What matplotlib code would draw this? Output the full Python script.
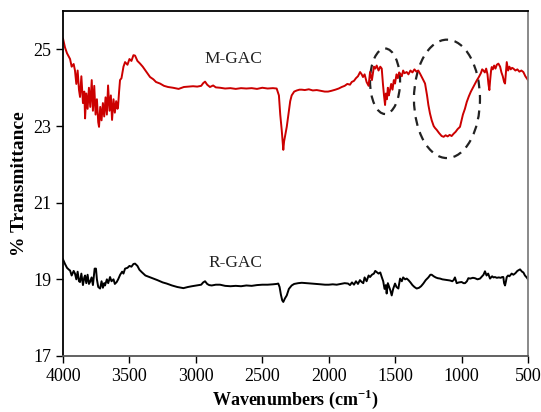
import numpy as np
import matplotlib
matplotlib.use("Agg")
import matplotlib.pyplot as plt
from matplotlib.patches import Ellipse

# M-GAC spectrum
m_wn = [4000, 3985, 3970, 3955, 3947, 3935, 3920, 3910, 3900, 3890,
        3880, 3872, 3862, 3850, 3840, 3834, 3825, 3815, 3805, 3795,
        3784, 3775, 3765, 3755, 3745, 3735, 3729, 3720, 3710, 3700,
        3690, 3680, 3670, 3661, 3650, 3640, 3631, 3620, 3610, 3600,
        3590, 3586, 3578, 3571, 3560, 3545, 3533, 3515, 3500, 3485,
        3470, 3458, 3440, 3420, 3400, 3380, 3360, 3345, 3320, 3300,
        3270, 3240, 3210, 3172, 3130, 3090, 3050, 3021, 2990, 2960,
        2945, 2931, 2915, 2894, 2870, 2850, 2818, 2780, 2740, 2700,
        2660, 2620, 2580, 2540, 2500, 2460, 2420, 2392, 2375, 2365,
        2354, 2346, 2342, 2336, 2328, 2316, 2300, 2290, 2279, 2260,
        2240, 2220, 2203, 2180, 2150, 2120, 2090, 2060, 2030, 2005,
        1980, 1950, 1925, 1902, 1880, 1860, 1840, 1827, 1810, 1795,
        1780, 1764, 1752, 1742, 1730, 1715, 1700, 1689, 1675, 1660,
        1650, 1639, 1625, 1612, 1601, 1592, 1584, 1576, 1570, 1562,
        1555, 1548, 1539, 1530, 1520, 1510, 1501, 1490, 1480, 1470,
        1463, 1450, 1440, 1430, 1413, 1400, 1385, 1370, 1355, 1340,
        1326, 1310, 1295, 1285, 1275, 1260, 1250, 1238, 1225, 1210,
        1200, 1187, 1170, 1160, 1150, 1135, 1120, 1105, 1090, 1075,
        1060, 1045, 1030, 1012, 1000, 990, 975, 961, 945, 930,
        915, 900, 886, 870, 855, 845, 836, 825, 815, 805,
        798, 791, 785, 778, 773, 765, 755, 745, 735, 723,
        710, 700, 690, 680, 673, 666, 660, 650, 640, 630,
        620, 610, 595, 580, 565, 550, 535, 520, 510, 500]
m_t = [25.28, 25.05, 24.90, 24.80, 24.75, 24.55, 24.62, 24.45, 24.10, 24.45,
       23.95, 23.76, 24.30, 23.60, 23.90, 23.20, 23.85, 23.45, 24.00, 23.50,
       24.20, 23.40, 24.05, 23.30, 23.70, 23.10, 22.98, 23.50, 23.15, 23.60,
       23.25, 23.75, 23.30, 24.06, 23.40, 23.80, 23.16, 23.70, 23.35, 23.65,
       23.45, 23.50, 23.90, 24.20, 24.25, 24.55, 24.67, 24.60, 24.75, 24.70,
       24.85, 24.84, 24.70, 24.63, 24.55, 24.45, 24.35, 24.28, 24.22, 24.15,
       24.11, 24.05, 24.02, 24.00, 23.97, 24.02, 24.03, 24.04, 24.03, 24.05,
       24.12, 24.16, 24.08, 24.02, 24.06, 24.01, 24.00, 23.98, 23.99, 23.97,
       23.99, 23.98, 23.99, 23.97, 24.00, 23.98, 23.99, 23.98, 23.80, 23.30,
       22.90, 22.55, 22.38, 22.60, 22.75, 22.98, 23.40, 23.65, 23.80, 23.90,
       23.93, 23.95, 23.95, 23.94, 23.96, 23.93, 23.94, 23.92, 23.90, 23.90,
       23.92, 23.95, 23.98, 24.02, 24.05, 24.10, 24.08, 24.15, 24.18, 24.25,
       24.30, 24.41, 24.35, 24.28, 24.35, 24.15, 24.05, 24.41, 24.20, 24.55,
       24.50, 24.58, 24.45, 24.55, 24.50, 24.10, 23.80, 23.55, 23.85, 23.70,
       24.00, 23.80, 23.94, 24.10, 23.95, 24.20, 24.11, 24.35, 24.25, 24.40,
       24.37, 24.30, 24.45, 24.38, 24.41, 24.35, 24.45, 24.40, 24.48, 24.42,
       24.45, 24.35, 24.25, 24.18, 24.11, 23.80, 23.55, 23.33, 23.15, 23.00,
       22.95, 22.90, 22.82, 22.78, 22.74, 22.72, 22.76, 22.73, 22.77, 22.74,
       22.80, 22.85, 22.92, 22.98, 23.15, 23.30, 23.45, 23.63, 23.78, 23.90,
       24.00, 24.10, 24.19, 24.28, 24.38, 24.48, 24.45, 24.40, 24.50, 24.35,
       24.10, 23.94, 24.20, 24.45, 24.54, 24.48, 24.58, 24.50, 24.60, 24.63,
       24.55, 24.40, 24.30, 24.15, 24.11, 24.40, 24.67, 24.45, 24.55, 24.48,
       24.52, 24.50, 24.45, 24.48, 24.42, 24.45, 24.41, 24.30, 24.25, 24.20]

# R-GAC spectrum
r_wn = [4000, 3985, 3970, 3955, 3947, 3935, 3920, 3910, 3900, 3890,
        3880, 3872, 3862, 3850, 3840, 3834, 3825, 3815, 3805, 3797,
        3785, 3775, 3762, 3752, 3745, 3735, 3721, 3710, 3700, 3690,
        3684, 3670, 3660, 3646, 3635, 3620, 3610, 3596, 3585, 3570,
        3555, 3545, 3533, 3515, 3500, 3485, 3470, 3458, 3440, 3425,
        3408, 3380, 3350, 3320, 3290, 3250, 3220, 3180, 3140, 3094,
        3060, 3030, 2994, 2960, 2945, 2931, 2915, 2900, 2881, 2850,
        2818, 2780, 2740, 2700, 2660, 2620, 2580, 2540, 2500, 2460,
        2420, 2392, 2380, 2370, 2360, 2350, 2342, 2330, 2316, 2300,
        2279, 2260, 2230, 2203, 2170, 2130, 2090, 2060, 2028, 2000,
        1970, 1940, 1910, 1880, 1855, 1840, 1825, 1810, 1795, 1780,
        1765, 1752, 1740, 1730, 1715, 1700, 1689, 1675, 1660, 1650,
        1639, 1625, 1612, 1601, 1590, 1580, 1570, 1564, 1555, 1545,
        1535, 1526, 1515, 1501, 1490, 1476, 1463, 1450, 1440, 1425,
        1413, 1400, 1385, 1370, 1355, 1338, 1320, 1305, 1288, 1270,
        1250, 1235, 1225, 1210, 1195, 1180, 1162, 1145, 1125, 1105,
        1087, 1070, 1060, 1050, 1037, 1020, 1000, 985, 974, 960,
        949, 935, 915, 900, 880, 861, 845, 835, 824, 812,
        800, 786, 770, 760, 749, 735, 720, 705, 695, 686,
        680, 673, 666, 660, 650, 640, 623, 610, 595, 580,
        570, 560, 545, 535, 523, 510, 500]
r_t = [19.52, 19.40, 19.30, 19.25, 19.23, 19.10, 19.22, 19.15, 19.00, 19.20,
       18.95, 18.93, 19.15, 18.85, 19.05, 19.10, 18.90, 19.12, 18.88, 18.93,
       19.05, 18.85, 19.28, 19.28, 19.00, 18.80, 18.76, 18.95, 18.78, 18.90,
       18.84, 19.00, 18.90, 19.06, 18.95, 19.00, 18.88, 18.93, 19.00, 19.12,
       19.20, 19.15, 19.28, 19.30, 19.35, 19.33, 19.40, 19.41, 19.35, 19.25,
       19.19, 19.10, 19.06, 19.02, 18.98, 18.92, 18.89, 18.84, 18.80, 18.77,
       18.80, 18.82, 18.84, 18.86, 18.92, 18.95, 18.88, 18.85, 18.84, 18.86,
       18.86, 18.83, 18.82, 18.83, 18.82, 18.84, 18.83, 18.85, 18.86, 18.86,
       18.87, 18.88, 18.89, 18.80, 18.60, 18.45, 18.41, 18.50, 18.58, 18.75,
       18.84, 18.88, 18.90, 18.91, 18.90, 18.89, 18.88, 18.87, 18.86, 18.86,
       18.87, 18.86, 18.88, 18.90, 18.89, 18.85, 18.92, 18.86, 18.95, 18.88,
       18.98, 18.93, 18.90, 19.05, 18.95, 19.10, 19.06, 19.12, 19.15, 19.22,
       19.19, 19.15, 19.18, 19.06, 18.95, 18.75, 18.85, 18.63, 18.90, 18.80,
       18.70, 18.58, 18.75, 18.89, 18.80, 18.76, 19.02, 18.95, 19.05, 19.00,
       19.02, 18.98, 18.92, 18.85, 18.80, 18.76, 18.78, 18.82, 18.89, 18.98,
       19.05, 19.12, 19.12, 19.08, 19.05, 19.03, 19.02, 19.00, 18.99, 18.98,
       18.97, 18.95, 18.98, 19.05, 18.90, 18.92, 18.93, 18.90, 18.90, 18.95,
       19.03, 19.02, 19.04, 19.03, 19.00, 19.02, 19.08, 19.12, 19.21, 19.10,
       19.15, 19.02, 19.08, 19.05, 19.06, 19.04, 19.05, 19.04, 19.06, 19.06,
       18.90, 18.84, 18.95, 19.06, 19.10, 19.08, 19.15, 19.12, 19.16, 19.22,
       19.24, 19.26, 19.20, 19.18, 19.10, 19.05, 19.00]

x_ticks = [4000, 3500, 3000, 2500, 2000, 1500, 1000, 500]
y_ticks = [17, 19, 21, 23, 25]

plt.rcParams['font.family'] = ['Liberation Serif', 'DejaVu Serif']
plt.rcParams['mathtext.fontset'] = 'custom'
plt.rcParams['mathtext.rm'] = 'Liberation Serif'
plt.rcParams['mathtext.bf'] = 'Liberation Serif:bold'

fig = plt.figure(figsize=(5.41, 4.12), dpi=100)
ax = fig.add_axes([0.1165, 0.136, 0.8595, 0.837])

ax.plot(m_wn, m_t, color="#cc0000", lw=1.4)
ax.plot(r_wn, r_t, color="black", lw=1.4)

# dashed circles round the bands
ax.add_patch(Ellipse((1576, 24.17), 226, 1.71, fill=False, ls=(0, (4, 3)),
                     lw=1.6, color="#222222"))
ax.add_patch(Ellipse((1110, 23.71), 497, 3.09, fill=False, ls=(0, (4, 3)),
                     lw=1.6, color="#222222"))

ax.text(2720, 24.74, "M-GAC", ha="center", va="center", fontsize=12.5, color="#222222")
ax.text(2705, 19.42, "R-GAC", ha="center", va="center", fontsize=12.5, color="#222222")

ax.set_xlim(4000, 500)
ax.set_ylim(17, 26)
ax.set_xticks(x_ticks)
ax.set_yticks(y_ticks)
ax.tick_params(labelsize=13, length=5, width=1, direction="out")

ax.spines["top"].set_color("black")
ax.spines["left"].set_color("black")
ax.spines["right"].set_color("#808080")
ax.spines["bottom"].set_color("#555555")
for s in ax.spines.values():
    s.set_linewidth(1.3)

ax.set_xlabel(r"Wavenumbers (cm$^{\mathbf{-1}}$)", fontsize=13, fontweight="bold",
              labelpad=2)
ax.set_ylabel("% Transmittance", fontsize=14, fontweight="bold", labelpad=4)

fig.savefig("out.png", dpi=100)
